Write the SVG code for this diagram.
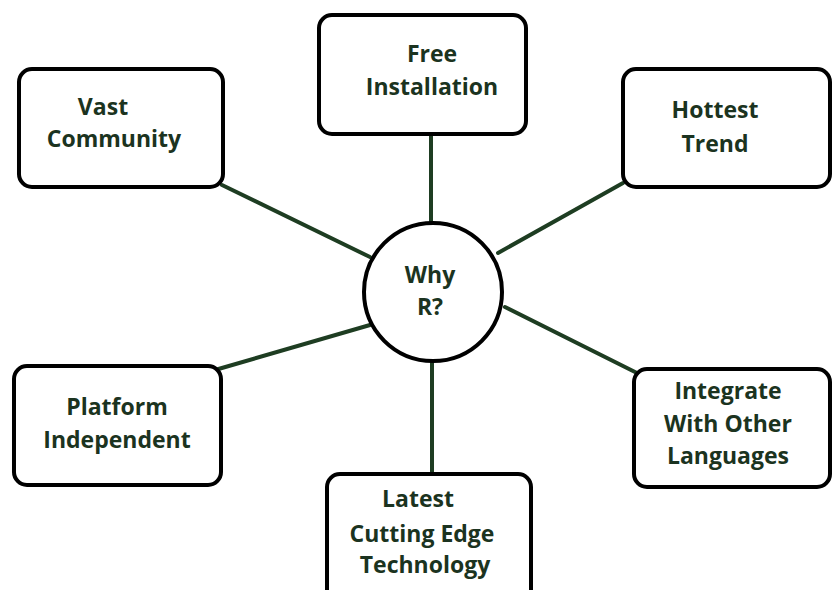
<svg xmlns="http://www.w3.org/2000/svg" width="832" height="590" viewBox="0 0 832 590">
<style>
.box{fill:#fff;stroke:#000;stroke-width:4}
.conn{stroke:#1e3d22;stroke-width:4;stroke-linecap:round;fill:none}
.t{font-family:"Open Sans","Liberation Sans",sans-serif;font-weight:bold;font-size:23px;fill:#1b3320;text-anchor:middle}
</style>
<rect width="832" height="590" fill="#fff"/>
<g id="connectors">
<line class="conn" x1="222" y1="185" x2="370" y2="257"/>
<line class="conn" x1="431" y1="134" x2="431" y2="223"/>
<line class="conn" x1="623" y1="183" x2="498" y2="253"/>
<line class="conn" x1="215" y1="370" x2="370" y2="325"/>
<line class="conn" x1="505" y1="307" x2="637" y2="373"/>
<line class="conn" x1="432" y1="361" x2="432" y2="473"/>
</g>
<g id="center">
<circle class="box" cx="433" cy="292" r="69"/>
<text class="t" x="430" y="283">Why</text>
<text class="t" x="430" y="315">R?</text>
</g>
<g id="vast">
<rect class="box" x="19" y="69" width="204" height="118" rx="13"/>
<text class="t" x="103" y="115">Vast</text>
<text class="t" x="114" y="147">Community</text>
</g>
<g id="free">
<rect class="box" x="319" y="15" width="207" height="119" rx="13"/>
<text class="t" x="432" y="62">Free</text>
<text class="t" x="432" y="95">Installation</text>
</g>
<g id="hottest">
<rect class="box" x="623" y="69" width="207" height="118" rx="13"/>
<text class="t" x="715" y="118">Hottest</text>
<text class="t" x="715" y="152">Trend</text>
</g>
<g id="platform">
<rect class="box" x="14" y="366" width="207" height="119" rx="13"/>
<text class="t" x="117" y="415">Platform</text>
<text class="t" x="117" y="448">Independent</text>
</g>
<g id="integrate">
<rect class="box" x="634" y="369" width="196" height="118" rx="13"/>
<text class="t" x="728" y="399">Integrate</text>
<text class="t" x="728" y="432">With Other</text>
<text class="t" x="728" y="464">Languages</text>
</g>
<g id="latest">
<rect class="box" x="327" y="474" width="204" height="130" rx="13"/>
<text class="t" x="418" y="507">Latest</text>
<text class="t" x="422" y="542">Cutting Edge</text>
<text class="t" x="425" y="573">Technology</text>
</g>
</svg>
